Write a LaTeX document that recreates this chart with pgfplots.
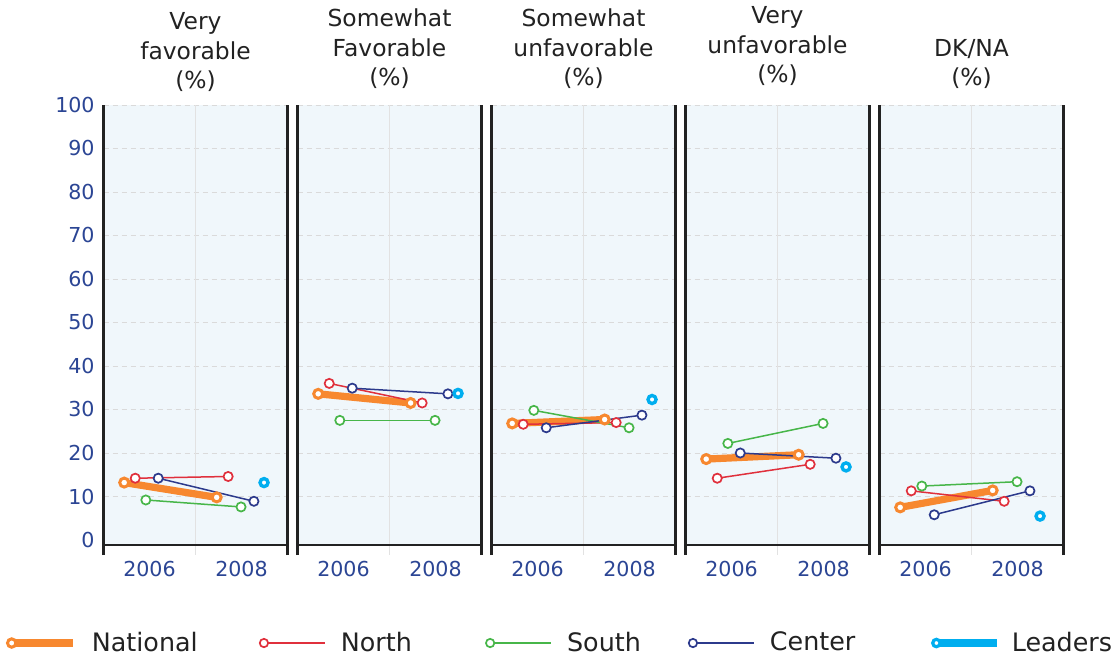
\documentclass[border=0pt]{standalone}
\usepackage{fontspec}
\setmainfont{DejaVu Sans}
\usepackage{pgfplots}
\pgfplotsset{compat=1.18}
\definecolor{cNat}{HTML}{F7882F}
\definecolor{cNorth}{HTML}{E0303C}
\definecolor{cSouth}{HTML}{47B649}
\definecolor{cCenter}{HTML}{2C3A8C}
\definecolor{cLead}{HTML}{00AEEF}
\definecolor{cTick}{HTML}{2B4594}
\definecolor{cBg}{HTML}{F0F7FB}
\definecolor{cGrid}{HTML}{DADADA}
\definecolor{cVGrid}{HTML}{E2E2E2}
\definecolor{cAxis}{HTML}{222222}
\definecolor{cText}{HTML}{222222}

\pgfplotsset{
  panel/.style={
    set layers, clip=false,
    scale only axis, width=92pt, height=225pt,
    xmin=2005, xmax=2009, ymin=-3.45, ymax=100,
    xtick={2006,2008}, xticklabels={2006,2008},
    ytick={10,20,...,100},
    extra y ticks={0}, extra y tick style={grid=none},
    extra x ticks={2007}, extra x tick labels={},
    extra x tick style={grid=major, major grid style={solid, draw=cVGrid, line width=0.6pt}},
    ymajorgrids,
    major grid style={draw=cGrid, dash pattern=on 2.5pt off 2pt, line width=0.5pt},
    major tick length=0pt, tick style={draw=none},
    axis line style={draw=none},
    /pgf/number format/assume math mode=true,
    tick label style={font=\fontsize{10.3}{12}\selectfont, text=cTick},
    xticklabel style={anchor=north, inner sep=0pt, yshift=-3pt},
    yticklabel style={anchor=east, inner sep=0pt, xshift=-4.25pt},
    title style={at={(0.5,1)}, anchor=south, align=center, inner sep=0pt, yshift=2pt,
      font=\fontsize{11.7}{14.7}\selectfont, text=cText},
  },
  noylabels/.style={yticklabels={}, extra y tick labels={}},
  nat/.style={cNat, line width=3.6pt, mark=*, mark size=2.25pt,
    mark options={fill=white, draw=cNat, line width=1.5pt, solid},
    legend image code/.code={
      \draw[cNat, line width=4pt] (0pt,0pt) -- (30.5pt,0pt);
      \draw[cNat, fill=white, line width=1.5pt] (0pt,0pt) circle (2.1pt);}},
  north/.style={cNorth, line width=0.75pt, mark=*, mark size=2.3pt,
    mark options={fill=white, draw=cNorth, line width=0.85pt, solid},
    legend image code/.code={
      \draw[cNorth, line width=0.75pt] (0pt,0pt) -- (30.5pt,0pt);
      \draw[cNorth, fill=white, line width=0.85pt] (0pt,0pt) circle (2.1pt);}},
  south/.style={cSouth, line width=0.75pt, mark=*, mark size=2.3pt,
    mark options={fill=white, draw=cSouth, line width=0.85pt, solid},
    legend image code/.code={
      \draw[cSouth, line width=0.75pt] (0pt,0pt) -- (30.5pt,0pt);
      \draw[cSouth, fill=white, line width=0.85pt] (0pt,0pt) circle (2.1pt);}},
  center/.style={cCenter, line width=0.75pt, mark=*, mark size=2.3pt,
    mark options={fill=white, draw=cCenter, line width=0.85pt, solid},
    legend image code/.code={
      \draw[cCenter, line width=0.75pt] (0pt,0pt) -- (30.5pt,0pt);
      \draw[cCenter, fill=white, line width=0.85pt] (0pt,0pt) circle (2.1pt);}},
  lead/.style={cLead, only marks, mark=*, mark size=2.0pt,
    mark options={fill=white, draw=cLead, line width=1.7pt, solid},
    legend image code/.code={
      \draw[cLead, line width=3.6pt] (0pt,0pt) -- (30.5pt,0pt);
      \draw[cLead, fill=white, line width=1.6pt] (0pt,0pt) circle (1.85pt);}},
  bgfill/.style={on layer=axis background, fill=cBg, draw=none, forget plot},
}

\newcommand{\panelframe}{%
  \addplot[bgfill] coordinates {(2005,-1.15) (2009,-1.15) (2009,100) (2005,100) (2005,-1.15)};
  \draw[cAxis, line width=1.4pt] (axis cs:2005,-3.45) -- (axis cs:2005,100);
  \draw[cAxis, line width=1.4pt] (axis cs:2009,-3.45) -- (axis cs:2009,100);
  \draw[cAxis, line width=1.4pt] (axis cs:2005,-1.15) -- (axis cs:2009,-1.15);
}

\begin{document}
\begin{tikzpicture}
\path (0,0) rectangle (558.5pt,330pt);

% Panel 1
\begin{axis}[panel, at={(51.75pt,52.5pt)}, title={Very\\favorable\\(\%)},
  title style={yshift=-1.5pt},
  legend columns=5, legend cell align=left,
  legend style={at={(-0.5299,-0.1956)}, anchor=west, draw=none, fill=none,
    inner sep=0pt, outer sep=0pt, font=\fontsize{12.7}{15}\selectfont, text=cText,
    nodes={inner sep=0pt},
    /tikz/every odd column/.style={column sep=7.6pt},
    /tikz/every even column/.style={column sep=0pt}}]
\panelframe
\addplot[nat] coordinates {(2005.45,13.2) (2007.46,9.8)};
\addplot[north] coordinates {(2005.69,14.2) (2007.71,14.6)};
\addplot[south] coordinates {(2005.92,9.2) (2007.99,7.6)};
\addplot[center] coordinates {(2006.19,14.2) (2008.27,8.9)};
\addplot[lead] coordinates {(2008.49,13.2)};
\legend{\makebox[83.5pt][l]{National},\makebox[72.1pt][l]{North},\makebox[60.4pt][l]{South},\makebox[80.6pt][l]{Center},\hspace*{-2.2pt}Leaders}
\end{axis}

% Panel 2
\begin{axis}[panel, noylabels, at={(148.75pt,52.5pt)}, title={Somewhat\\Favorable\\(\%)}]
\panelframe
\addplot[nat] coordinates {(2005.45,33.6) (2007.46,31.5)};
\addplot[north] coordinates {(2005.69,36.0) (2007.71,31.5)};
\addplot[south] coordinates {(2005.92,27.5) (2007.99,27.5)};
\addplot[center] coordinates {(2006.19,34.9) (2008.27,33.6)};
\addplot[lead] coordinates {(2008.49,33.7)};
\end{axis}

% Panel 3
\begin{axis}[panel, noylabels, at={(245.75pt,52.5pt)}, title={Somewhat\\unfavorable\\(\%)}]
\panelframe
\addplot[nat] coordinates {(2005.45,26.8) (2007.46,27.7)};
\addplot[north] coordinates {(2005.69,26.6) (2007.71,27.0)};
\addplot[south] coordinates {(2005.92,29.8) (2007.99,25.8)};
\addplot[center] coordinates {(2006.19,25.8) (2008.27,28.7)};
\addplot[lead] coordinates {(2008.49,32.3)};
\end{axis}

% Panel 4
\begin{axis}[panel, noylabels, at={(342.75pt,52.5pt)}, title={Very\\unfavorable\\(\%)},
  title style={yshift=1.5pt}]
\panelframe
\addplot[nat] coordinates {(2005.45,18.6) (2007.46,19.6)};
\addplot[north] coordinates {(2005.69,14.2) (2007.71,17.4)};
\addplot[south] coordinates {(2005.92,22.2) (2007.99,26.8)};
\addplot[center] coordinates {(2006.19,20.0) (2008.27,18.8)};
\addplot[lead] coordinates {(2008.49,16.8)};
\end{axis}

% Panel 5
\begin{axis}[panel, noylabels, at={(439.75pt,52.5pt)}, title={DK/NA\\(\%)}]
\panelframe
\addplot[nat] coordinates {(2005.45,7.5) (2007.46,11.4)};
\addplot[north] coordinates {(2005.69,11.3) (2007.71,8.9)};
\addplot[south] coordinates {(2005.92,12.4) (2007.99,13.4)};
\addplot[center] coordinates {(2006.19,5.8) (2008.27,11.3)};
\addplot[lead] coordinates {(2008.49,5.5)};
\end{axis}
\end{tikzpicture}
\end{document}
